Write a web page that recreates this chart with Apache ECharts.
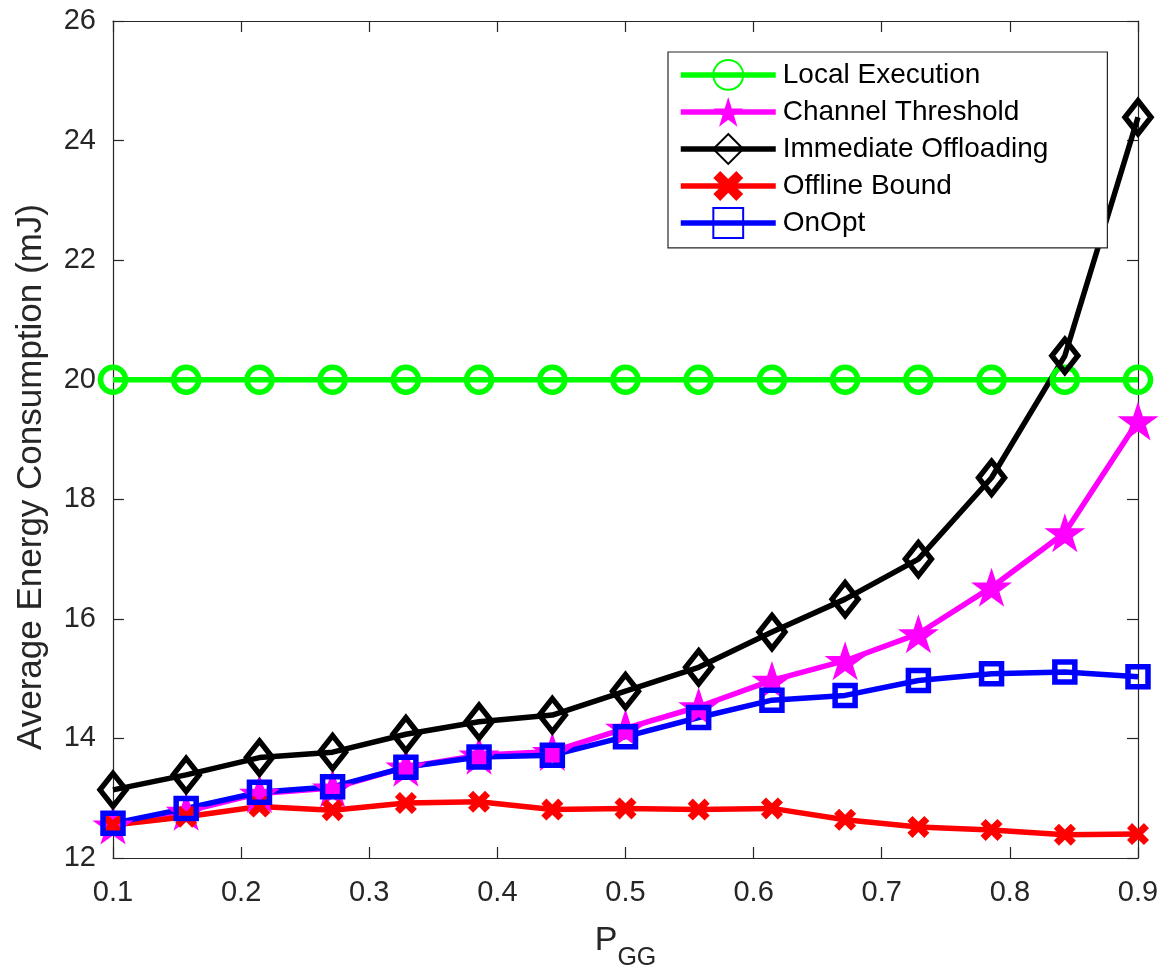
<!DOCTYPE html>
<html>
<head>
<meta charset="utf-8">
<script src="https://cdn.jsdelivr.net/npm/echarts@6/dist/echarts.min.js"></script>
<style>
  html, body { margin: 0; padding: 0; background: #fff; }
  #chart { width: 1170px; height: 972px; }
</style>
</head>
<body>
<div id="chart"></div>
<script>
const xValues = [0.1, 0.1571, 0.2143, 0.2714, 0.3286, 0.3857, 0.4429, 0.5, 0.5571, 0.6143, 0.6714, 0.7286, 0.7857, 0.8429, 0.9];
const localExecution = [20, 20, 20, 20, 20, 20, 20, 20, 20, 20, 20, 20, 20, 20, 20];
const channelThreshold = [12.55, 12.78, 13.08, 13.17, 13.52, 13.72, 13.78, 14.17, 14.53, 14.97, 15.30, 15.75, 16.53, 17.44, 19.31];
const immediateOffloading = [13.14, 13.39, 13.68, 13.77, 14.07, 14.28, 14.39, 14.79, 15.19, 15.78, 16.33, 17.00, 18.36, 20.40, 24.39];
const offlineBound = [12.55, 12.69, 12.86, 12.80, 12.92, 12.94, 12.81, 12.83, 12.81, 12.83, 12.64, 12.52, 12.47, 12.39, 12.40];
const onOpt = [12.58, 12.83, 13.10, 13.19, 13.52, 13.69, 13.72, 14.03, 14.35, 14.64, 14.72, 14.97, 15.08, 15.11, 15.03];
const seriesNames = ['Local Execution', 'Channel Threshold', 'Immediate Offloading', 'Offline Bound', 'OnOpt'];

const FONT = 'Liberation Sans, Arial, Helvetica, sans-serif';
const AX = '#262626';
const STAR = 'path://M0,-100 L22.45,-30.9 L95.1,-30.9 L36.33,11.8 L58.78,80.9 L0,38.2 L-58.78,80.9 L-36.33,11.8 L-95.1,-30.9 L-22.45,-30.9 Z';
const CROSS = 'path://M2.3,0 L5,2.7 L7.7,0 L10,2.3 L7.3,5 L10,7.7 L7.7,10 L5,7.3 L2.3,10 L0,7.7 L2.7,5 L0,2.3 Z';

function pairs(ys) { return ys.map((y, i) => [xValues[i], y]); }

function mkSeries(name, ys, color, symbol, size, hollow) {
  return {
    name: name,
    type: 'line',
    data: pairs(ys),
    symbol: symbol,
    symbolSize: size,
    showAllSymbol: true,
    lineStyle: { color: color, width: 5.5 },
    itemStyle: hollow
      ? { color: 'rgba(255,255,255,0)', borderColor: color, borderWidth: 5.5 }
      : { color: color, borderWidth: 0 },
    emphasis: { disabled: true },
    animation: false
  };
}

const chart = echarts.init(document.getElementById('chart'), null, { renderer: 'canvas' });

const axisCommon = {
  type: 'value',
  axisLine: { show: true, lineStyle: { color: AX, width: 1.2 } },
  axisTick: { show: true, inside: true, length: 11, lineStyle: { color: AX, width: 1.2 } },
  splitLine: { show: false }
};

chart.setOption({
  backgroundColor: '#fff',
  animation: false,
  grid: { left: 113, right: 32, top: 21, bottom: 114, containLabel: false, outerBoundsMode: 'none' },
  xAxis: [
    Object.assign({}, axisCommon, {
      position: 'bottom', min: 0.1, max: 0.9, interval: 0.1,
      axisLabel: { color: AX, fontSize: 29, fontFamily: FONT, margin: 20, formatter: v => v.toFixed(1) },
      name: '{p|P}{s|GG}',
      nameLocation: 'middle',
      nameGap: 52,
      nameTextStyle: {
        rich: {
          p: { fontSize: 34, fontFamily: FONT, color: AX },
          s: { fontSize: 25, fontFamily: FONT, color: AX, padding: [36, 0, 0, 0] }
        }
      }
    }),
    Object.assign({}, axisCommon, {
      position: 'top', min: 0.1, max: 0.9, interval: 0.1,
      axisLabel: { show: false }
    })
  ],
  yAxis: [
    Object.assign({}, axisCommon, {
      position: 'left', min: 12, max: 26, interval: 2,
      axisLabel: { color: AX, fontSize: 29, fontFamily: FONT, margin: 17 },
      name: 'Average Energy Consumption (mJ)',
      nameLocation: 'middle',
      nameGap: 64,
      nameTextStyle: { fontSize: 35, fontFamily: FONT, color: AX, padding: [0, 75, 0, 0] }
    }),
    Object.assign({}, axisCommon, {
      position: 'right', min: 12, max: 26, interval: 2,
      axisLabel: { show: false }
    })
  ],
  legend: {
    data: seriesNames,
    orient: 'vertical',
    left: 668,
    top: 52,
    padding: [7, 59, 9, 10],
    itemWidth: 95,
    itemHeight: 37.3,
    itemGap: 6.1,
    borderColor: AX,
    borderWidth: 1.2,
    backgroundColor: '#fff',
    selectedMode: false,
    lineStyle: { width: 5.5 },
    textStyle: { fontSize: 28, fontFamily: FONT, color: '#000', lineHeight: 30, padding: [0, 0, 0, 2] }
  },
  series: [
    mkSeries(seriesNames[0], localExecution, '#00ff00', 'circle', 25, true),
    mkSeries(seriesNames[1], channelThreshold, '#ff00ff', STAR, [41, 39], false),
    mkSeries(seriesNames[2], immediateOffloading, '#000000', 'diamond', [26, 33], true),
    mkSeries(seriesNames[3], offlineBound, '#ff0000', CROSS, 22, false),
    mkSeries(seriesNames[4], onOpt, '#0000ff', 'rect', 20, true)
  ]
});
</script>
</body>
</html>
